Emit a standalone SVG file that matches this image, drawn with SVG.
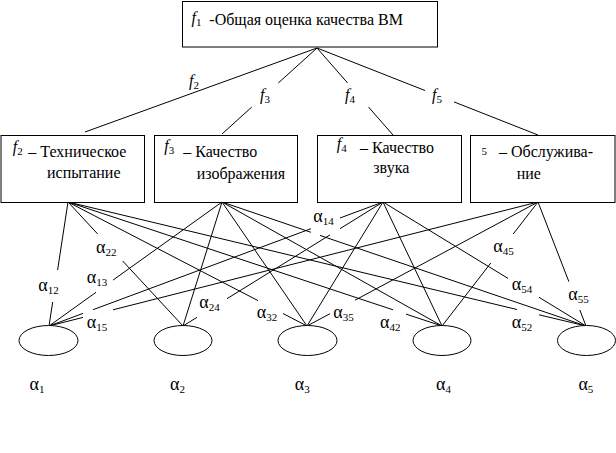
<svg xmlns="http://www.w3.org/2000/svg" width="616" height="453" viewBox="0 0 616 453" font-family="'Liberation Serif', 'Times New Roman', 'DejaVu Serif', serif">
<style>
.box{fill:#fff;stroke:#000;stroke-width:1}
.ell{fill:#fff;stroke:#000;stroke-width:1}
.ln{stroke:#000;stroke-width:1;fill:none}
text{font-family:'Liberation Serif','Times New Roman','DejaVu Serif',serif;font-size:16px;fill:#000}
.fi{font-style:italic}
.sub{font-size:11px}
.al{font-size:18px}
</style>
<rect width="616" height="453" fill="#fff"/>
<g id="connectors" class="ln">
<path d="M317,48L85,132 M317,48L278.3,83 M251.8,107L222,134 M317,48L347.6,83 M368.5,107L393,135 M317,48L425,90.5 M454,101.9L538,135"/>
<path d="M68,202L57.6,270 M52.7,302L49,326 M68,202L97.7,234 M122.7,261L183,326 M68,202L258,300.6 M283,313.5L307,326 M68,202L393,309.8 M406,314.1L442,326 M68,202L517,309.5 M539,314.8L586,326"/>
<path d="M222,202L113,280.1 M96,292.3L49,326 M222,202L183,326 M222,202L307,326 M222,202L442,326 M222,202L311,232.3 M320,235.4L586,326"/>
<path d="M383,202L340,218 M311,228.7L93,309.7 M83,313.4L49,326 M383,202L340,228.7 M330,234.9L227,298.7 M197,317.3L183,326 M383,202L307,326 M383,202L442,326 M383,202L508,278.4 M539,297.3L586,326"/>
<path d="M538,202L113,309.8 M83,317.4L49,326 M538,202L355,300.2 M330,313.7L307,326 M538,202L513.2,234 M490.8,263L442,326 M538,202L568.9,281.7 M579.8,310L586,326"/>
</g>
<g id="f1">
<rect class="box" x="182.5" y="1.5" width="255" height="45.5"/>
<text x="191.5" y="23"><tspan class="fi">f</tspan><tspan class="sub" dy="3">1</tspan></text>
<text x="209.3" y="25">-Общая оценка качества ВМ</text>
</g>
<g id="f2">
<rect class="box" x="1" y="135.5" width="143.5" height="67"/>
<text x="12.7" y="152"><tspan class="fi">f</tspan><tspan class="sub" dy="3">2</tspan></text>
<text x="28.3" y="157">– Техническое</text>
<text x="47" y="178">испытание</text>
</g>
<g id="f3">
<rect class="box" x="154.5" y="135.5" width="143" height="67"/>
<text x="164.3" y="151"><tspan class="fi">f</tspan><tspan class="sub" dy="3">3</tspan></text>
<text x="183.3" y="157">– Качество</text>
<text x="196.7" y="179">изображения</text>
</g>
<g id="f4">
<rect class="box" x="317.5" y="135.5" width="144" height="67"/>
<text x="336.7" y="149"><tspan class="fi">f</tspan><tspan class="sub" dy="3">4</tspan></text>
<text x="360" y="153">– Качество</text>
<text x="373.3" y="172.7">звука</text>
</g>
<g id="f5">
<rect class="box" x="470.5" y="135.5" width="144.5" height="67"/>
<text class="sub" x="481.5" y="155">5</text>
<text x="499" y="157">– Обслужива-</text>
<text x="516.7" y="179">ние</text>
</g>
<g id="top-labels">
<text x="189" y="86"><tspan class="fi">f</tspan><tspan class="sub" dy="3">2</tspan></text>
<text x="260" y="100"><tspan class="fi">f</tspan><tspan class="sub" dy="3">3</tspan></text>
<text x="345" y="100"><tspan class="fi">f</tspan><tspan class="sub" dy="3">4</tspan></text>
<text x="432" y="100"><tspan class="fi">f</tspan><tspan class="sub" dy="3">5</tspan></text>
</g>
<g id="weights">
<text x="38.3" y="290.5"><tspan class="al">α</tspan><tspan class="sub" dy="3">12</tspan></text>
<text x="96" y="253"><tspan class="al">α</tspan><tspan class="sub" dy="3">22</tspan></text>
<text x="86.7" y="282.5"><tspan class="al">α</tspan><tspan class="sub" dy="3">13</tspan></text>
<text x="86.7" y="328"><tspan class="al">α</tspan><tspan class="sub" dy="3">15</tspan></text>
<text x="199.3" y="308"><tspan class="al">α</tspan><tspan class="sub" dy="3">24</tspan></text>
<text x="256.7" y="318"><tspan class="al">α</tspan><tspan class="sub" dy="3">32</tspan></text>
<text x="313.3" y="221.7"><tspan class="al">α</tspan><tspan class="sub" dy="3">14</tspan></text>
<text x="333.3" y="318"><tspan class="al">α</tspan><tspan class="sub" dy="3">35</tspan></text>
<text x="380" y="328"><tspan class="al">α</tspan><tspan class="sub" dy="3">42</tspan></text>
<text x="493.3" y="251.7"><tspan class="al">α</tspan><tspan class="sub" dy="3">45</tspan></text>
<text x="511.7" y="290"><tspan class="al">α</tspan><tspan class="sub" dy="3">54</tspan></text>
<text x="511.7" y="328"><tspan class="al">α</tspan><tspan class="sub" dy="3">52</tspan></text>
<text x="568.3" y="300"><tspan class="al">α</tspan><tspan class="sub" dy="3">55</tspan></text>
</g>
<g id="a1">
<ellipse class="ell" cx="48.5" cy="340.5" rx="29.5" ry="15"/>
<text x="29.5" y="390"><tspan class="al">α</tspan><tspan class="sub" dy="3">1</tspan></text>
</g>
<g id="a2">
<ellipse class="ell" cx="183" cy="340.5" rx="29" ry="15"/>
<text x="170" y="390"><tspan class="al">α</tspan><tspan class="sub" dy="3">2</tspan></text>
</g>
<g id="a3">
<ellipse class="ell" cx="307.5" cy="340.5" rx="29.5" ry="15"/>
<text x="294.7" y="390"><tspan class="al">α</tspan><tspan class="sub" dy="3">3</tspan></text>
</g>
<g id="a4">
<ellipse class="ell" cx="442" cy="340.5" rx="29" ry="15"/>
<text x="436" y="390"><tspan class="al">α</tspan><tspan class="sub" dy="3">4</tspan></text>
</g>
<g id="a5">
<ellipse class="ell" cx="586.5" cy="340.5" rx="29" ry="15"/>
<text x="578.4" y="390"><tspan class="al">α</tspan><tspan class="sub" dy="3">5</tspan></text>
</g>
</svg>
